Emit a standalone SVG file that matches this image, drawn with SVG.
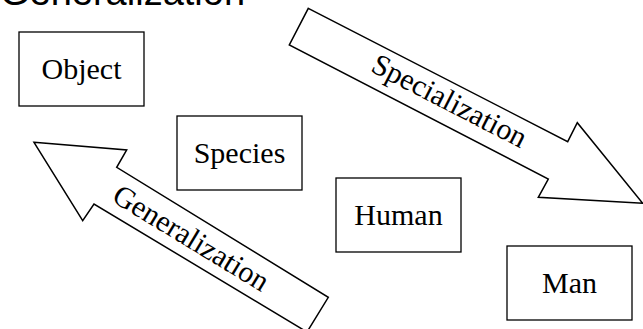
<svg xmlns="http://www.w3.org/2000/svg" width="643" height="329" viewBox="0 0 643 329">
<style>
.box{fill:#fff;stroke:#000;stroke-width:1.3}
.lbl{font-family:"Liberation Serif","Times New Roman",serif;font-size:30px;fill:#000;text-anchor:middle}
.arrow{fill:#fff;stroke:#000;stroke-width:1.5;stroke-linejoin:miter}
.title{font-family:"Liberation Sans",Arial,sans-serif;font-size:38px;fill:#000}
</style>
<rect width="643" height="329" fill="#fff"/>
<text class="title" x="0" y="5">Generalization</text>
<g id="connectors">
<g id="specialization-arrow">
<polygon class="arrow" points="308.3,8.3 567.7,141.7 577.3,122.7 642.7,203.3 538.3,197.3 548.3,179 289.3,45"/>
<text class="lbl" transform="translate(448.2,103.4) rotate(27.2)" y="7">Specialization</text>
</g>
<g id="generalization-arrow">
<polygon class="arrow" points="34,142.3 126.7,150 116.7,167.3 328.3,297.3 307,332 94,204 82.7,220.7"/>
<text class="lbl" transform="translate(191.2,237.8) rotate(31.3)" y="10">Generalization</text>
</g>
</g>
<g id="object"><rect class="box" x="19" y="32" width="125" height="74"/><text class="lbl" x="81.5" y="79">Object</text></g>
<g id="species"><rect class="box" x="177" y="116" width="125" height="74"/><text class="lbl" x="239.5" y="163">Species</text></g>
<g id="human"><rect class="box" x="336" y="178" width="125" height="74"/><text class="lbl" x="398.5" y="225">Human</text></g>
<g id="man"><rect class="box" x="507" y="246" width="125" height="74"/><text class="lbl" x="569.5" y="293">Man</text></g>
</svg>
